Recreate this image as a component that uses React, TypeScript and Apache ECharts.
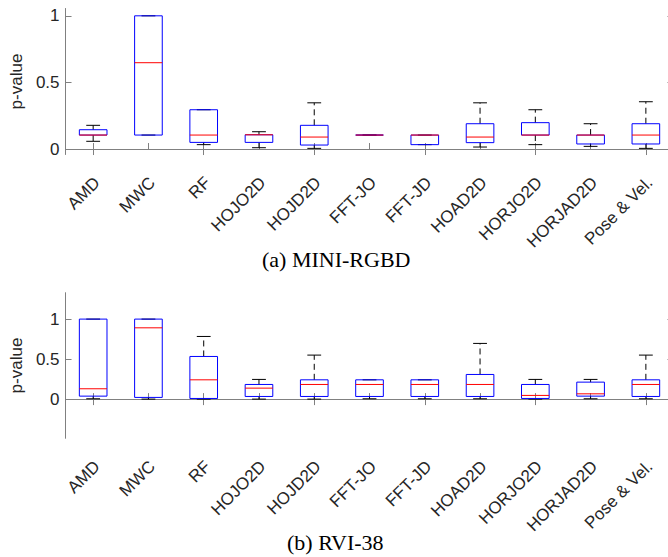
import React, { useEffect, useRef } from "react";
import * as echarts from "echarts";

const categories = ["AMD", "MWC", "RF", "HOJO2D", "HOJD2D", "FFT-JO", "FFT-JD", "HOAD2D", "HORJO2D", "HORJAD2D", "Pose & Vel."];

// [lower whisker, Q1, median, Q3, upper whisker]
const miniRgbdStats = [
  [0.058, 0.105, 0.105, 0.145, 0.178],
  [0.105, 0.105, 0.648, 1.0, 1.0],
  [0.033, 0.05, 0.105, 0.295, 0.295],
  [0.01, 0.05, 0.107, 0.107, 0.13],
  [0.005, 0.03, 0.09, 0.178, 0.347],
  [0.105, 0.105, 0.105, 0.105, 0.105],
  [0.033, 0.033, 0.105, 0.105, 0.105],
  [0.015, 0.048, 0.09, 0.19, 0.347],
  [0.033, 0.105, 0.105, 0.198, 0.295],
  [0.02, 0.038, 0.105, 0.105, 0.19],
  [0.005, 0.038, 0.105, 0.19, 0.355],
];

const rvi38Stats = [
  [0.004, 0.037, 0.129, 1.0, 1.0],
  [0.0, 0.021, 0.891, 1.0, 1.0],
  [0.0, 0.008, 0.241, 0.533, 0.783],
  [0.0, 0.033, 0.137, 0.183, 0.246],
  [0.0, 0.033, 0.183, 0.241, 0.55],
  [0.004, 0.033, 0.183, 0.241, 0.241],
  [0.004, 0.033, 0.183, 0.241, 0.241],
  [0.004, 0.033, 0.183, 0.308, 0.696],
  [0.0, 0.008, 0.046, 0.183, 0.246],
  [0.004, 0.037, 0.066, 0.212, 0.246],
  [0.004, 0.033, 0.183, 0.241, 0.55],
];

const yTickValues = [0, 0.5, 1];
const yRangeTop = [-0.041, 1.055];
const yRangeBottom = [-0.49, 1.33];
const captions = ["(a) MINI-RGBD", "(b) RVI-38"];
const yAxisName = "p-value";

const AXIS_COLOR = "#808080";
const TEXT_COLOR = "#262626";
const SANS = "'Liberation Sans', Arial, Helvetica, sans-serif";
const SERIF = "'Liberation Serif', 'Times New Roman', serif";

function renderBox(params: any, api: any) {
  const x = api.value(0);
  const lo = api.coord([x, api.value(1)]);
  const q1 = api.coord([x, api.value(2)]);
  const med = api.coord([x, api.value(3)]);
  const q3 = api.coord([x, api.value(4)]);
  const hi = api.coord([x, api.value(5)]);
  const bw = api.size([1, 0])[0];
  const cx = lo[0];
  const half = bw * 0.25;
  const cap = bw * 0.125;
  const black = { stroke: "#000000", lineWidth: 1 };
  return {
    type: "group",
    children: [
      { type: "line", shape: { x1: cx, y1: q3[1], x2: cx, y2: hi[1] }, style: { ...black, lineDash: [6, 4] } },
      { type: "line", shape: { x1: cx, y1: q1[1], x2: cx, y2: lo[1] }, style: { ...black, lineDash: [6, 4] } },
      { type: "line", shape: { x1: cx - cap, y1: hi[1], x2: cx + cap, y2: hi[1] }, style: black },
      { type: "line", shape: { x1: cx - cap, y1: lo[1], x2: cx + cap, y2: lo[1] }, style: black },
      {
        type: "rect",
        shape: { x: cx - half, y: q3[1], width: half * 2, height: q1[1] - q3[1] },
        style: { fill: "none", stroke: "#0000ff", lineWidth: 1 },
      },
      { type: "line", shape: { x1: cx - half, y1: med[1], x2: cx + half, y2: med[1] }, style: { stroke: "#ff0000", lineWidth: 1 } },
    ],
  };
}

function xAxes(gridIndex: number) {
  const common = {
    type: "category" as const,
    data: categories,
    gridIndex,
    boundaryGap: true,
    axisLine: { show: true, lineStyle: { color: AXIS_COLOR, width: 1 } },
    axisTick: { show: true, inside: true, alignWithLabel: true, length: 6, lineStyle: { color: AXIS_COLOR } },
    splitLine: { show: false },
  };
  return [
    {
      ...common,
      position: "bottom",
      axisLabel: {
        rotate: 45,
        align: "right",
        verticalAlign: "top",
        margin: 13,
        padding: [3, 6, 0, 0],
        fontSize: 17,
        color: TEXT_COLOR,
        fontFamily: SANS,
        interval: 0,
      },
    },
    { ...common, position: "top", axisLabel: { show: false } },
  ];
}

function yAxes(gridIndex: number, range: number[]) {
  const common = {
    type: "value" as const,
    gridIndex,
    min: range[0],
    max: range[1],
    axisLine: { show: true, lineStyle: { color: AXIS_COLOR, width: 1 } },
    axisTick: { show: true, inside: true, length: 6, customValues: yTickValues, lineStyle: { color: AXIS_COLOR } },
    splitLine: { show: false },
  };
  return [
    {
      ...common,
      position: "left",
      name: yAxisName,
      nameLocation: "middle",
      nameGap: 30,
      nameRotate: 90,
      nameTextStyle: { fontSize: 17, color: TEXT_COLOR, fontFamily: SANS },
      axisLabel: {
        customValues: yTickValues,
        fontSize: 17,
        color: TEXT_COLOR,
        fontFamily: SANS,
        margin: 6,
        formatter: (v: number) => String(v),
      },
    },
    { ...common, position: "right", axisLabel: { show: false } },
  ];
}

export default function App() {
  const ref = useRef<HTMLDivElement>(null);
  useEffect(() => {
    if (!ref.current) return;
    const chart = echarts.init(ref.current, null, { renderer: "svg" });
    const option = {
      animation: false,
      backgroundColor: "#ffffff",
      grid: [
        { left: 57.5, top: 8.5, width: 616, height: 146 },
        { left: 57.5, top: 292.7, width: 616, height: 145.6 },
      ],
      xAxis: [...xAxes(0), ...xAxes(1)],
      yAxis: [...yAxes(0, yRangeTop), ...yAxes(1, yRangeBottom)],
      series: [
        {
          type: "custom",
          xAxisIndex: 0,
          yAxisIndex: 0,
          renderItem: renderBox,
          encode: { x: 0, y: [1, 2, 3, 4, 5] },
          data: miniRgbdStats.map((s, i) => [i, ...s]),
          clip: false,
        },
        {
          type: "custom",
          xAxisIndex: 2,
          yAxisIndex: 2,
          renderItem: renderBox,
          encode: { x: 0, y: [1, 2, 3, 4, 5] },
          data: rvi38Stats.map((s, i) => [i, ...s]),
          clip: false,
        },
      ],
      graphic: [
        {
          type: "text",
          left: 262,
          top: 248,
          style: { text: captions[0], fontSize: 22, fontFamily: SERIF, fill: "#000000" },
        },
        {
          type: "text",
          left: 287,
          top: 531,
          style: { text: captions[1], fontSize: 22, fontFamily: SERIF, fill: "#000000" },
        },
      ],
    };
    chart.setOption(option as any);
    return () => chart.dispose();
  }, []);
  return (
    <div style={{ position: "fixed", left: 0, top: 0, width: 668, height: 557, overflow: "hidden", background: "#ffffff" }}>
      <div ref={ref} style={{ width: 690, height: 557 }} />
    </div>
  );
}
